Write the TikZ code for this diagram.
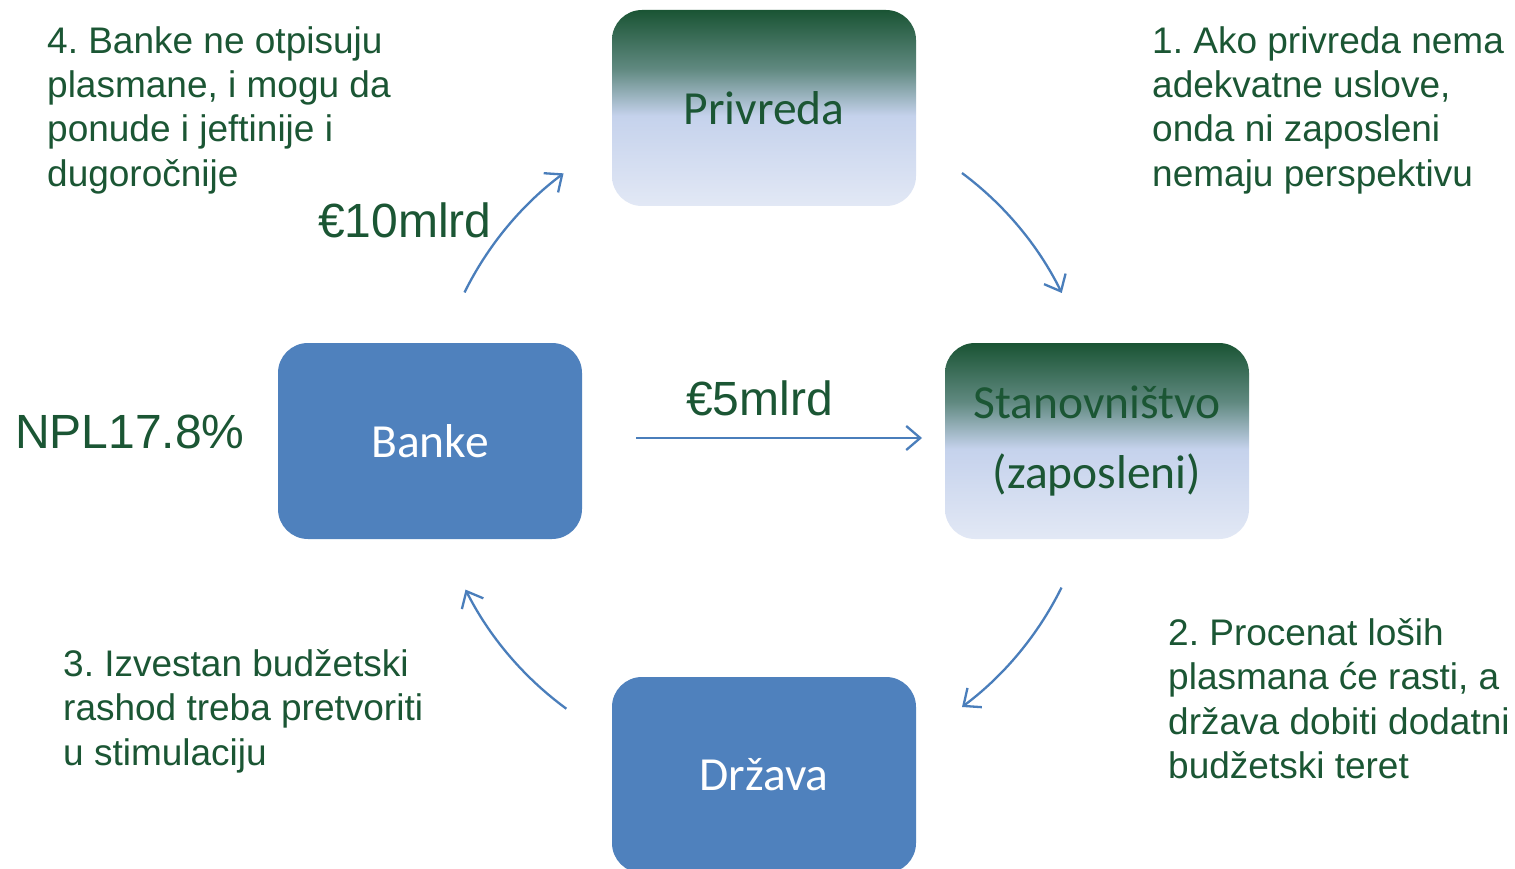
\documentclass[tikz,border=0pt]{standalone}
\usepackage{fontspec}
\setmainfont{Liberation Sans}
\newfontfamily\boxfont{Carlito}
\usetikzlibrary{arrows.meta,calc}
\frenchspacing
\definecolor{txtgreen}{RGB}{27,86,52}
\definecolor{boxblue}{RGB}{79,129,189}
\definecolor{arrblue}{RGB}{74,126,187}
\definecolor{gtop}{RGB}{26,84,52}
\definecolor{gq}{RGB}{96,137,128}
\definecolor{gmid}{RGB}{197,210,236}
\definecolor{gbot}{RGB}{226,232,245}
\pgfdeclareverticalshading{boxgrad}{100bp}{color(0bp)=(gbot); color(25bp)=(gbot); color(48bp)=(gmid); color(60bp)=(gq); color(75bp)=(gtop); color(100bp)=(gtop)}
\tikzset{
  basebox/.style={rectangle, rounded corners=30pt, minimum width=304pt, minimum height=196pt, inner sep=0pt, align=center, font=\boxfont\fontsize{47.5}{70}\selectfont},
  gradbox/.style={basebox, shading=boxgrad, text=txtgreen},
  bluebox/.style={basebox, fill=boxblue, text=white},
  sidetext/.style={anchor=base west, inner sep=0pt, align=left, text=txtgreen, font=\fontsize{37}{44.5}\selectfont},
  bigtext/.style={anchor=base west, inner sep=0pt, text=txtgreen, font=\fontsize{48}{56}\selectfont},
  arr/.style={draw=arrblue, line width=2.3pt, -{Straight Barb[length=14pt,width=24pt,line width=2.3pt]}}
}
\begin{document}
\begin{tikzpicture}[x=1pt,y=-1pt]
\clip (0,0) rectangle (1515,869);
\fill[white] (0,0) rectangle (1515,869);
% boxes
\node[gradbox] (privreda) at (764,108) {Privreda};
\node[gradbox] (stan) at (1097,441) {Stanovništvo\\(zaposleni)};
\node[bluebox] (banke) at (430,441) {Banke};
\node[bluebox] (drzava) at (764,775) {Država};
% texts (anchor is the baseline of the last line)
\node[sidetext] (t4) at (47,186.5) {4. Banke ne otpisuju\\plasmane, i mogu da\\ponude i jeftinije i\\dugoročnije};
\node[sidetext] (t1) at (1152,186.5) {1. Ako privreda nema\\adekvatne uslove,\\onda ni zaposleni\\nemaju perspektivu};
\node[sidetext] (t3) at (63,765) {3. Izvestan budžetski\\rashod treba pretvoriti\\u stimulaciju};
\node[sidetext] (t2) at (1168,778.5) {2. Procenat loših\\plasmana će rasti, a\\država dobiti dodatni\\budžetski teret};
\node[bigtext] (m10) at (318,237) {€10mlrd};
\node[bigtext] (m5) at (686,415) {€5mlrd};
\node[bigtext] (npl) at (15,448) {NPL17.8\%};
% arrows
\coordinate (c) at (763,440);
\coordinate (a1) at ($(c)+(206.3:333)$);
\coordinate (a2) at ($(c)+(306.7:333)$);
\coordinate (a3) at ($(c)+(26.3:333)$);
\coordinate (a4) at ($(c)+(126.2:333)$);
\draw[arr] (a1) arc[start angle=206.3, end angle=233.2, radius=333];
\draw[arr] (a2) arc[start angle=306.7, end angle=333.8, radius=333];
\draw[arr] (a3) arc[start angle=26.3, end angle=53.3, radius=333];
\draw[arr] (a4) arc[start angle=126.2, end angle=153.3, radius=333];
\coordinate (s1) at (636,438);
\coordinate (s2) at (922,438);
\draw[arr] (s1) -- (s2);
\end{tikzpicture}
\end{document}
